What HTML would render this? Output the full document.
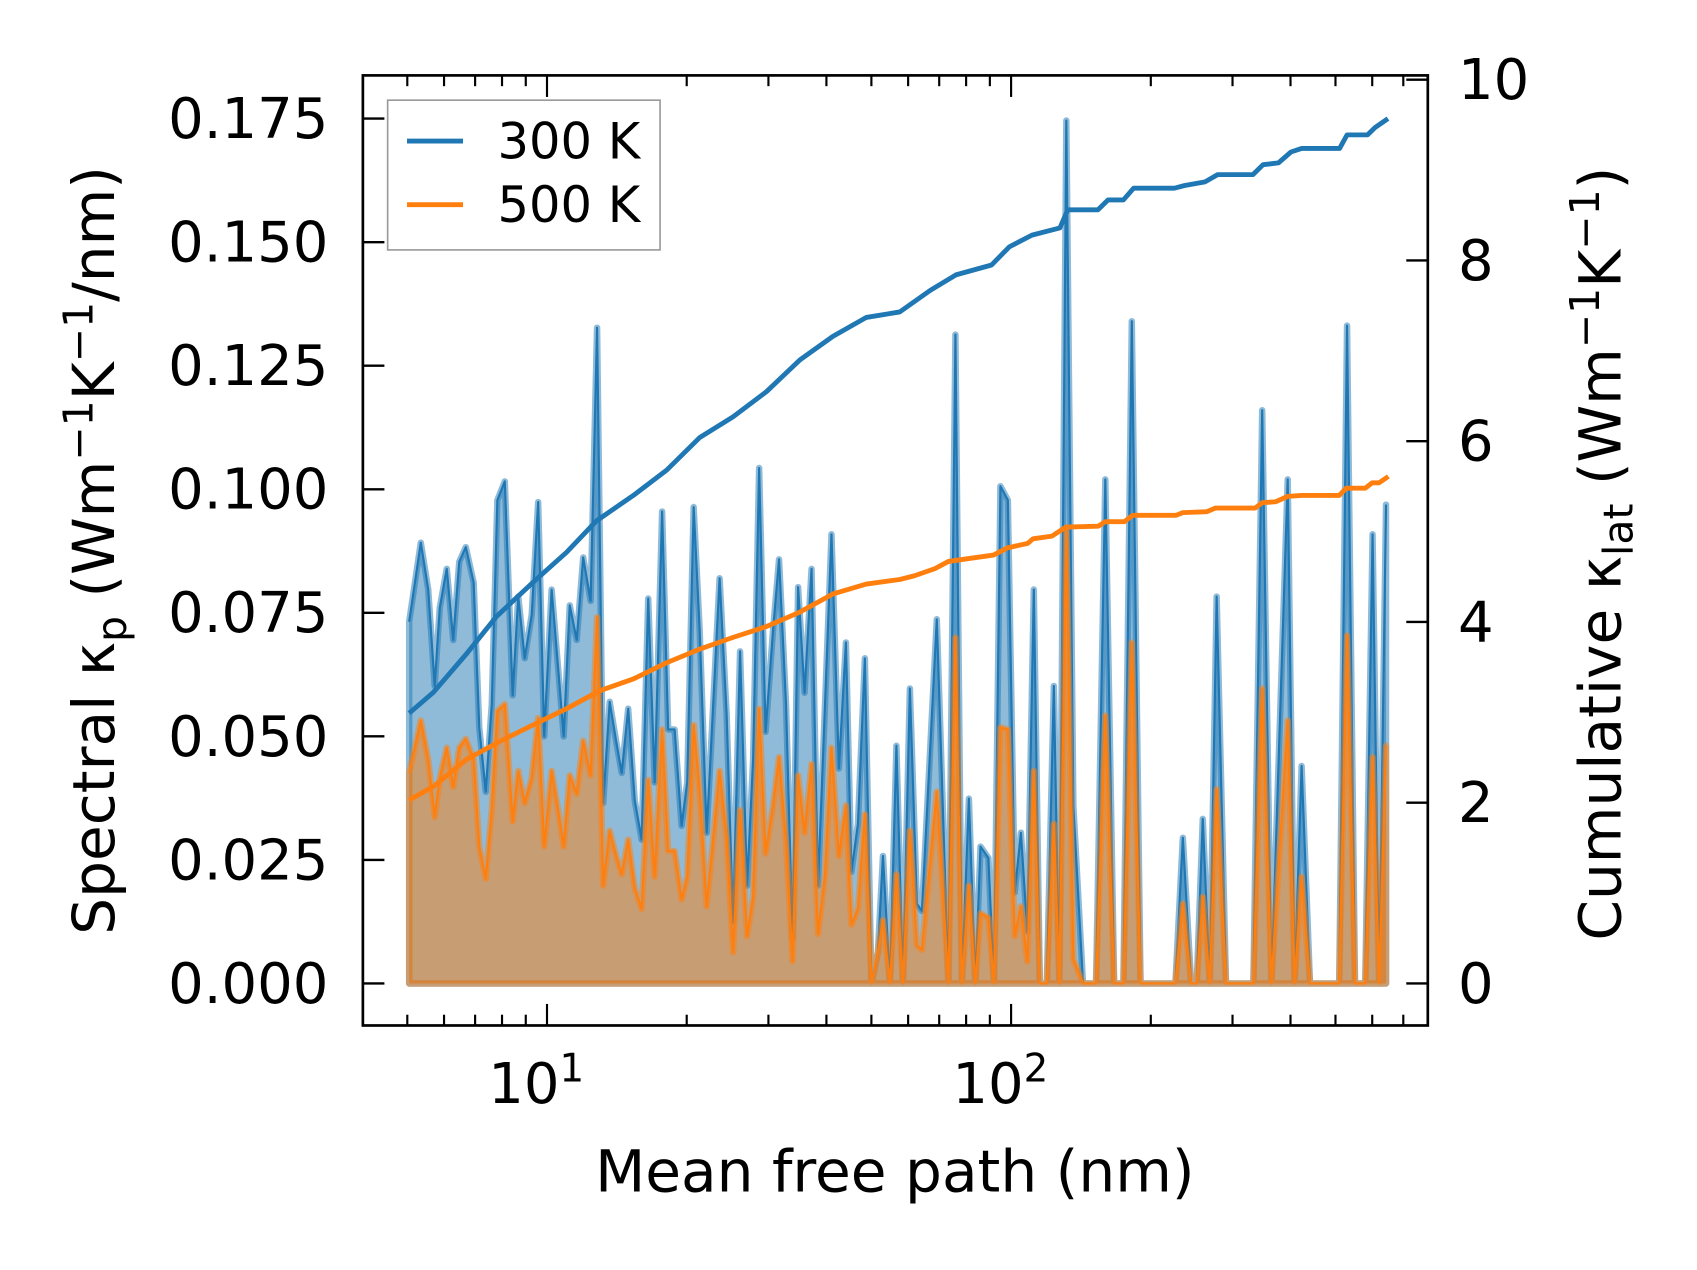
<!DOCTYPE html>
<html><head><meta charset="utf-8"><style>
html,body{margin:0;padding:0;background:#fff;}
svg{display:block;font-family:"DejaVu Sans","Liberation Sans",sans-serif;}
</style></head><body>
<svg id="chart" width="1697" height="1270" viewBox="0 0 1576 1179" preserveAspectRatio="none" xmlns="http://www.w3.org/2000/svg">
<g id="marks"></g>
<g id="axes"></g>
<text transform="translate(106,511) rotate(-90)" text-anchor="middle" font-size="54">Spectral κ<tspan font-size="38" dy="11">p</tspan><tspan dy="-11"> (Wm</tspan><tspan font-size="38" dy="-20">−1</tspan><tspan dy="20">K</tspan><tspan font-size="38" dy="-20">−1</tspan><tspan dy="20">/nm)</tspan></text>
<text transform="translate(1505,514) rotate(-90)" text-anchor="middle" font-size="54">Cumulative κ<tspan font-size="38" dy="11">lat</tspan><tspan dy="-11"> (Wm</tspan><tspan font-size="38" dy="-20">−1</tspan><tspan dy="20">K</tspan><tspan font-size="38" dy="-20">−1</tspan><tspan dy="20">)</tspan></text>
<text x="831" y="1106" text-anchor="middle" font-size="54">Mean free path (nm)</text>
<g>
<rect x="360" y="93" width="253" height="139" fill="#fff" stroke="#999" stroke-width="1.5"/>
<line x1="378" y1="131" x2="430" y2="131" stroke="#1f77b4" stroke-width="4.5"/>
<text x="462" y="147" font-size="46">300 K</text>
<line x1="378" y1="190" x2="430" y2="190" stroke="#ff7f0e" stroke-width="4.5"/>
<text x="462" y="206" font-size="46">500 K</text>
</g>
</svg>
<script>
// log10(mean free path / nm) sample positions
const logMfp = [0.703,0.728,0.744,0.758,0.769,0.784,0.798,0.811,0.825,0.842,
0.854,0.868,0.881,0.893,0.909,0.926,0.938,0.952,0.967,0.981,
0.994,1.010,1.024,1.036,1.049,1.064,1.078,1.094,1.108,1.121,
1.135,1.149,1.161,1.175,1.189,1.204,1.218,1.232,1.248,1.261,
1.275,1.290,1.302,1.316,1.329,1.344,1.372,1.387,1.401,1.416,
1.431,1.444,1.457,1.471,1.487,1.500,1.515,1.529,1.541,1.555,
1.570,1.584,1.599,1.613,1.629,1.644,1.656,1.670,1.685,1.699,
1.713,1.724,1.739,1.753,
1.767,1.782,1.797,1.808,1.840,1.865,1.880,1.894,1.909,1.923,
1.934,1.951,1.963,1.977,1.993,2.008,2.021,2.035,2.049,2.062,
2.077,2.092,2.104,2.119,2.134,2.155,2.183,2.203,2.222,2.242,
2.260,2.279,2.354,2.370,2.388,2.400,2.413,2.428,2.443,2.463,
2.522,2.541,2.561,2.596,2.611,2.626,2.644,2.707,2.724,2.741,
2.763,2.779,2.793,2.808];
const spec300 = [0.0732,0.0892,0.0797,0.0602,0.0760,0.0839,0.0695,0.0853,0.0883,0.0811,
0.0518,0.0388,0.0565,0.0978,0.1016,0.0583,0.0783,0.0658,0.0746,0.0974,
0.0500,0.0797,0.0639,0.0500,0.0765,0.0695,0.0862,0.0774,0.1327,0.0365,
0.0570,0.0490,0.0426,0.0556,0.0370,0.0291,0.0779,0.0407,0.0955,0.0514,
0.0514,0.0319,0.0407,0.0964,0.0714,0.0305,0.0820,0.0546,0.0124,0.0672,
0.0198,0.0453,0.1043,0.0509,0.0714,0.0858,0.0565,0.0091,0.0802,0.0588,
0.0839,0.0198,0.0565,0.0909,0.0435,0.0690,0.0226,0.0323,0.0658,0,
0.0063,0.0258,0,0.0481,
0,0.0597,0.0161,0.0147,0.0737,0,0.1313,0,0.0374,0,
0.0277,0.0254,0,0.1006,0.0978,0.0184,0.0305,0.0105,0.0797,0,
0,0.0602,0,0.1746,0.0360,0,0,0.1020,0,0,
0.1340,0,0,0.0295,0,0,0.0333,0,0.0783,0,
0,0.1160,0,0.1020,0,0.0440,0,0,0.1331,0,
0,0.0909,0,0.0969];
const spec500 = [0.0426,0.0532,0.0453,0.0337,0.0416,0.0477,0.0398,0.0477,0.0495,0.0453,
0.0277,0.0212,0.0351,0.0551,0.0565,0.0328,0.0430,0.0365,0.0416,0.0537,
0.0277,0.0430,0.0351,0.0277,0.0421,0.0384,0.0491,0.0421,0.0741,0.0198,
0.0309,0.0258,0.0221,0.0291,0.0193,0.0151,0.0412,0.0216,0.0514,0.0268,
0.0268,0.0170,0.0216,0.0523,0.0388,0.0156,0.0430,0.0295,0.0063,0.0351,
0.0096,0.0175,0.0556,0.0263,0.0360,0.0458,0.0286,0.0045,0.0421,0.0305,
0.0444,0.0100,0.0221,0.0477,0.0258,0.0360,0.0119,0.0151,0.0342,0,
0.0063,0.0128,0,0.0221,
0,0.0309,0.0077,0.0068,0.0388,0,0.0700,0,0.0198,0,
0.0142,0.0133,0,0.0518,0.0514,0.0096,0.0156,0.0045,0.0430,0,
0,0.0323,0,0.0918,0.0050,0,0,0.0542,0,0,
0.0690,0,0,0.0161,0,0,0.0175,0,0.0393,0,
0,0.0597,0,0.0532,0,0.0216,0,0,0.0704,0,
0,0.0458,0,0.0481];
const cumLog300 = [0.703,0.755,0.827,0.891,0.970,1.042,1.107,1.186,1.258,1.329,1.401,1.473,1.545,1.616,1.688,1.760,1.826,1.881,1.958,1.996,2.045,2.105,2.122,2.187,2.209,2.242,2.264,2.352,2.374,2.418,2.445,2.521,2.543,2.576,2.603,2.626,2.708,2.724,2.768,2.784,2.812];
const cum300 = [2.99,3.22,3.65,4.06,4.44,4.77,5.12,5.40,5.68,6.04,6.27,6.55,6.90,7.16,7.37,7.43,7.67,7.84,7.95,8.15,8.28,8.36,8.56,8.56,8.67,8.67,8.80,8.80,8.83,8.87,8.95,8.95,9.06,9.08,9.20,9.24,9.24,9.39,9.39,9.47,9.57];
const cumLog500 = [0.703,0.755,0.827,0.899,0.970,1.042,1.114,1.186,1.258,1.329,1.401,1.473,1.545,1.616,1.688,1.760,1.791,1.836,1.865,1.962,1.992,2.036,2.047,2.088,2.118,2.188,2.203,2.244,2.262,2.355,2.370,2.422,2.440,2.526,2.541,2.570,2.596,2.626,2.707,2.722,2.763,2.778,2.793,2.813];
const cum500 = [2.03,2.18,2.48,2.68,2.86,3.04,3.24,3.37,3.55,3.70,3.83,3.95,4.11,4.31,4.42,4.47,4.51,4.59,4.67,4.74,4.82,4.87,4.92,4.95,5.05,5.06,5.11,5.11,5.18,5.18,5.21,5.22,5.26,5.26,5.32,5.33,5.39,5.40,5.40,5.48,5.48,5.54,5.54,5.61];
const leftTicks = [0,0.025,0.05,0.075,0.1,0.125,0.15,0.175];
const leftTickLabels = ["0.000","0.025","0.050","0.075","0.100","0.125","0.150","0.175"];
const rightTicks = [0,2,4,6,8,10];
const xMajor = [1,2];

const NS="http://www.w3.org/2000/svg";
const L=337,R=1326,T=70,B=952;
function X(lg){return 508+(lg-1)*431;}
function YL(v){return 913-v*4588;}
function YR(v){return 913-v*83.9;}
function mk(tag,attrs,parent){const e=document.createElementNS(NS,tag);for(const k in attrs)e.setAttribute(k,attrs[k]);parent.appendChild(e);return e;}
const marks=document.getElementById('marks'), axes=document.getElementById('axes');

function areaPath(xs,ys){let d='M'+X(xs[0]).toFixed(1)+','+YL(0);xs.forEach((x,i)=>{d+=' L'+X(x).toFixed(1)+','+YL(ys[i]).toFixed(1);});d+=' L'+X(xs[xs.length-1]).toFixed(1)+','+YL(0)+' Z';return d;}
function linePath(xs,ys,fy){return xs.map((x,i)=>(i?'L':'M')+X(x).toFixed(1)+','+fy(ys[i]).toFixed(1)).join(' ');}

const a3=mk('path',{d:areaPath(logMfp,spec300),fill:'rgba(31,119,180,0.5)',stroke:'rgba(31,119,180,0.5)','stroke-width':6,'stroke-linejoin':'round'},marks);


const l3=mk('path',{d:linePath(logMfp,spec300,YL),fill:'none',stroke:'#1f77b4','stroke-width':2,'stroke-linejoin':'round'},marks);


const a5=mk('path',{d:areaPath(logMfp,spec500),fill:'rgba(255,127,14,0.5)',stroke:'rgba(255,127,14,0.5)','stroke-width':6,'stroke-linejoin':'round'},marks);


const l5=mk('path',{d:linePath(logMfp,spec500,YL),fill:'none',stroke:'#ff7f0e','stroke-width':2,'stroke-linejoin':'round'},marks);


const c3=mk('path',{d:linePath(cumLog300,cum300,YR),fill:'none',stroke:'#1f77b4','stroke-width':4.5,'stroke-linejoin':'round'},marks);


const c5=mk('path',{d:linePath(cumLog500,cum500,YR),fill:'none',stroke:'#ff7f0e','stroke-width':4.5,'stroke-linejoin':'round'},marks);



const fr=mk('rect',{x:L,y:T,width:R-L,height:B-T,fill:'none',stroke:'#000','stroke-width':2.5},axes);


leftTicks.forEach((v,i)=>{const y=YL(v);
 mk('line',{x1:L,x2:L+20,y1:y,y2:y,stroke:'#000','stroke-width':2.2},axes);
 const t=mk('text',{x:305,y:y+18,'text-anchor':'end','font-size':52},axes);t.textContent=leftTickLabels[i];
 
 
});
rightTicks.forEach(v=>{const y=YR(v);
 mk('line',{x1:R-20,x2:R,y1:y,y2:y,stroke:'#000','stroke-width':2.2},axes);
 const t=mk('text',{x:1354,y:y+18,'font-size':52},axes);t.textContent=String(v);
 
 
});
for(let dec=0;dec<=2;dec++){for(let m=1;m<=9;m++){const lg=dec+Math.log10(m);const x=X(lg);if(x<L+2||x>R-2)continue;
 const len=m===1?20:10;
 mk('line',{x1:x,x2:x,y1:B,y2:B-len,stroke:'#000','stroke-width':2},axes);
 mk('line',{x1:x,x2:x,y1:T,y2:T+len,stroke:'#000','stroke-width':2},axes);}}
xMajor.forEach(p=>{const t=mk('text',{x:X(p)-10,y:1024,'text-anchor':'middle','font-size':52},axes);
 t.textContent='10';
 
 
 const s=mk('tspan',{'font-size':36,dy:-20},t);s.textContent=String(p);});
</script>
</body></html>
